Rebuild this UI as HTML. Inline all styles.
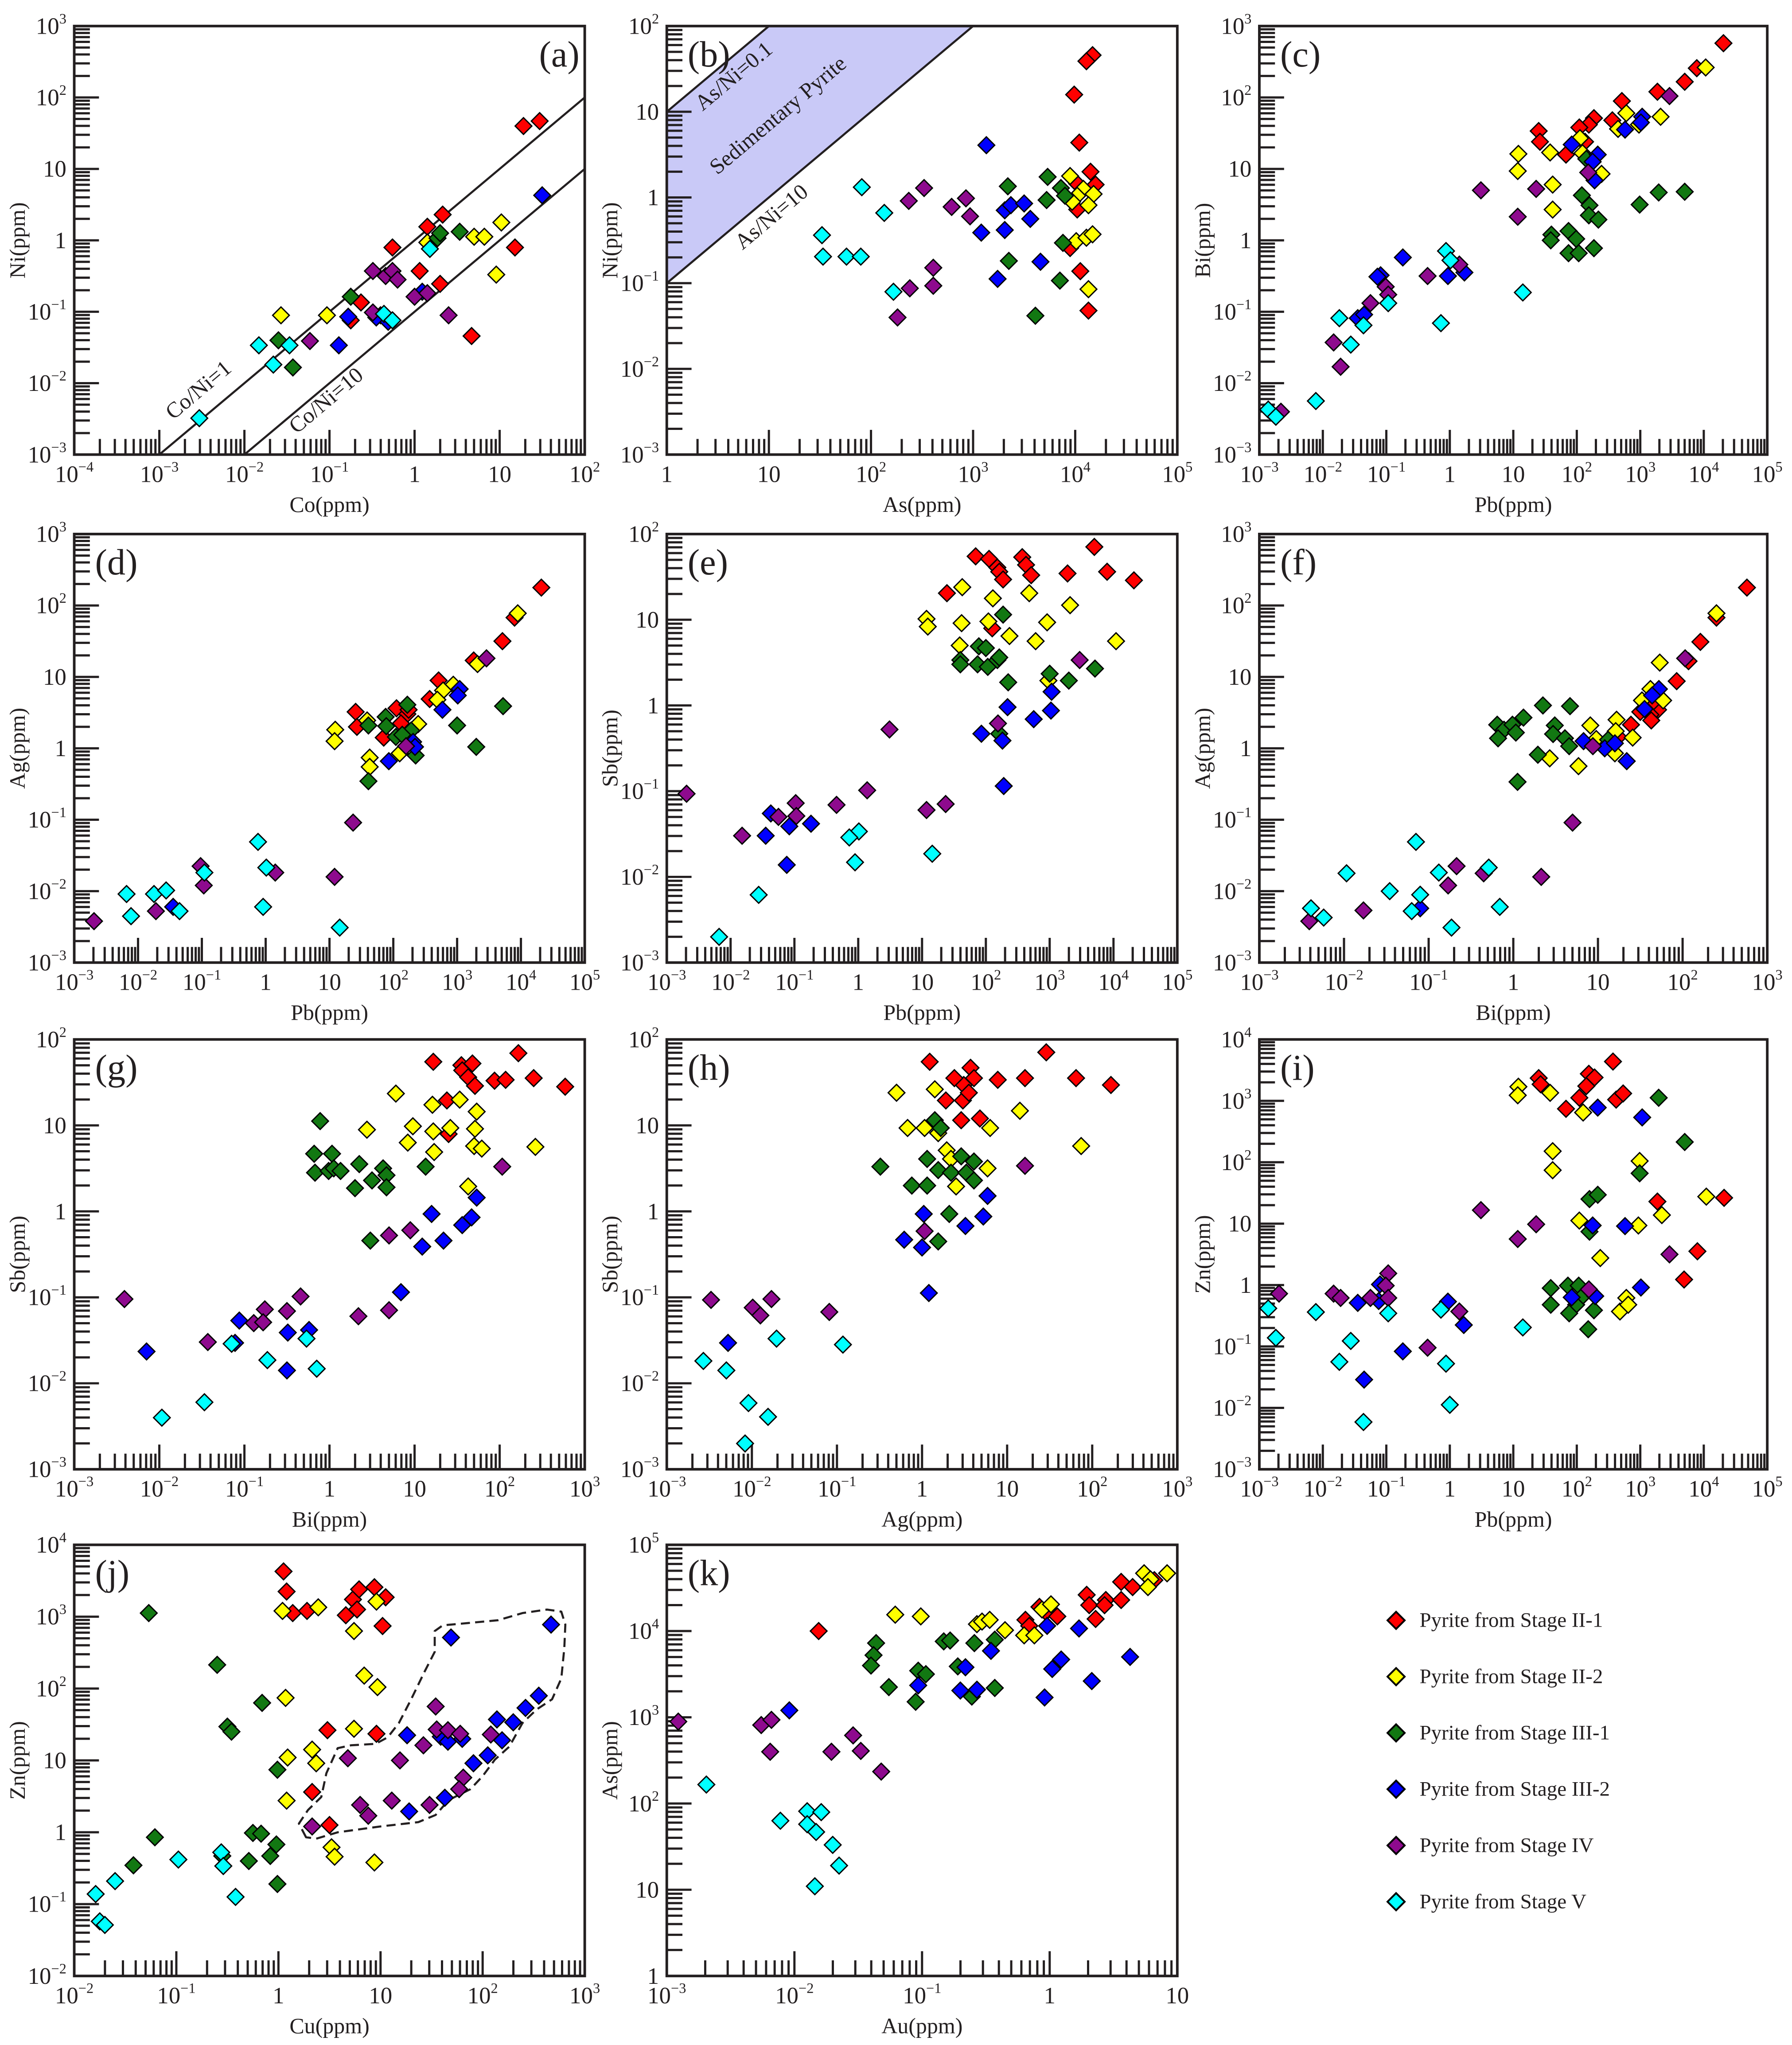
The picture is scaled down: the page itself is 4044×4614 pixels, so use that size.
<!DOCTYPE html>
<html>
<head>
<meta charset="utf-8">
<style>
html,body{margin:0;padding:0;background:#fff;}
svg{display:block;}
text{font-family:"Liberation Serif",serif;fill:#231f20;}
</style>
</head>
<body>
<svg id="fig" xmlns="http://www.w3.org/2000/svg" width="4044" height="4614" viewBox="0 0 1376 1570" preserveAspectRatio="none"></svg>
<script>
// ===== Data: each point is [log10(x ppm), log10(y ppm)] =====
// (a) Co vs Ni
const aRed=[[1.28,1.60],[1.47,1.67],[0.30,-0.61],[0.33,0.36],[0.15,0.19],[0.06,-0.43],[-0.26,-0.10],[-0.63,-0.87],[-0.75,-1.12],[0.67,-1.34],[1.18,-0.10]];
const aYellow=[[-1.57,-1.05],[-1.03,-1.05],[0.15,-0.03],[0.70,0.05],[0.82,0.05],[1.02,0.25],[0.96,-0.48]];
const aGreen=[[-1.60,-1.40],[-1.43,-1.78],[-0.75,-0.79],[0.27,0.03],[0.53,0.12],[-0.40,-1.05],[0.30,0.10]];
const aBlue=[[-0.78,-1.07],[-0.89,-1.47],[-0.31,-1.14],[0.09,-0.72],[1.50,0.63],[-0.45,-1.08]];
const aPurple=[[-1.23,-1.41],[-0.49,-0.43],[-0.34,-0.50],[-0.26,-0.43],[-0.49,-1.01],[0.00,-0.79],[0.15,-0.74],[0.40,-1.05],[-0.20,-0.55]];
const aCyan=[[-2.53,-2.49],[-1.83,-1.47],[-1.66,-1.74],[-1.47,-1.47],[-0.36,-1.03],[-0.26,-1.12],[0.18,-0.12]];
// (b) As vs Ni
const bRed=[[4.17,1.66],[4.11,1.59],[3.99,1.20],[4.04,0.64],[4.15,0.30],[4.20,0.15],[4.02,0.16],[4.02,-0.14],[3.95,-0.59],[4.05,-0.86],[4.13,-1.32]];
const bYellow=[[3.95,0.25],[4.08,0.10],[4.02,0.02],[4.18,0.04],[3.97,-0.05],[4.13,-0.09],[4.01,-0.51],[4.11,-0.47],[4.17,-0.43],[4.13,-1.07]];
const bGreen=[[3.73,0.24],[3.34,0.13],[3.86,0.11],[3.90,0.02],[3.72,-0.03],[3.88,-0.53],[3.35,-0.74],[3.85,-0.97],[3.61,-1.38]];
const bBlue=[[3.13,0.61],[3.31,-0.15],[3.37,-0.09],[3.50,-0.07],[3.56,-0.25],[3.08,-0.41],[3.31,-0.38],[3.66,-0.75],[3.24,-0.95]];
const bPurple=[[2.37,-0.04],[2.52,0.11],[2.79,-0.11],[2.93,-0.01],[2.97,-0.22],[2.61,-0.82],[2.61,-1.03],[2.38,-1.06],[2.26,-1.40]];
const bCyan=[[1.52,-0.44],[1.53,-0.69],[1.76,-0.69],[1.90,-0.69],[1.91,0.12],[2.13,-0.18],[2.22,-1.10]];
// (c) Pb vs Bi
const cRed=[[4.31,2.76],[3.89,2.41],[3.70,2.22],[3.27,2.08],[2.71,1.95],[2.56,1.68],[2.27,1.71],[2.19,1.62],[2.04,1.58],[1.40,1.53],[1.42,1.38],[1.83,1.20],[2.13,1.38]];
const cYellow=[[4.03,2.42],[3.32,1.73],[2.78,1.78],[2.65,1.56],[2.98,1.62],[2.05,1.43],[2.09,1.22],[2.39,0.93],[1.58,1.23],[1.08,1.21],[1.07,0.97],[1.62,0.78],[1.62,0.43]];
const cGreen=[[3.70,0.68],[3.29,0.67],[2.99,0.50],[2.08,0.63],[2.20,0.49],[2.19,0.35],[2.34,0.29],[1.60,0.08],[1.59,0.0],[1.87,0.13],[1.99,0.02],[1.87,-0.18],[2.03,-0.18],[2.27,-0.11],[2.15,1.14]];
const cBlue=[[3.03,1.73],[3.01,1.65],[2.76,1.55],[1.92,1.34],[2.33,1.20],[2.25,1.10],[2.28,0.84],[-0.74,-0.24],[-1.09,-0.49],[-1.14,-0.51],[-0.03,-0.50],[0.23,-0.45],[-1.45,-1.09],[-1.35,-1.04]];
const cPurple=[[3.46,2.02],[2.18,0.95],[0.49,0.70],[1.36,0.72],[1.07,0.33],[-0.35,-0.50],[0.15,-0.34],[-1.01,-0.65],[-0.97,-0.76],[-1.25,-0.88],[-1.83,-1.43],[-1.72,-1.77],[-2.66,-2.40]];
const cCyan=[[-0.06,-0.15],[0.01,-0.28],[1.15,-0.73],[-0.97,-0.88],[-0.14,-1.16],[-1.74,-1.09],[-1.36,-1.19],[-1.56,-1.46],[-2.11,-2.25],[-2.86,-2.37],[-2.74,-2.47]];
// (d) Pb vs Ag
const dRed=[[4.32,2.25],[3.90,1.83],[3.71,1.50],[3.26,1.23],[2.71,0.95],[2.57,0.69],[2.05,0.56],[2.22,0.48],[2.12,0.35],[1.41,0.51],[1.43,0.30],[1.85,0.15],[2.24,0.54]];
const dYellow=[[3.95,1.89],[3.32,1.18],[2.94,0.89],[2.78,0.81],[2.69,0.68],[2.39,0.34],[1.59,0.39],[1.09,0.26],[1.08,0.10],[1.63,-0.13],[1.63,-0.26],[2.10,-0.07]];
const dGreen=[[3.72,0.59],[3.0,0.32],[3.30,0.02],[2.22,0.61],[1.88,0.44],[1.89,0.31],[1.61,0.32],[2.04,0.16],[2.28,0.25],[2.35,-0.10],[1.61,-0.46],[2.14,0.19]];
const dBlue=[[3.04,0.83],[3.01,0.74],[2.77,0.54],[2.31,0.09],[2.34,0.02],[1.93,-0.18],[-1.45,-2.22]];
const dPurple=[[3.46,1.26],[2.20,0.03],[1.37,-1.04],[1.08,-1.80],[0.15,-1.74],[-1.02,-1.65],[-0.97,-1.92],[-1.72,-2.28],[-2.69,-2.42]];
const dCyan=[[-0.12,-1.31],[0.01,-1.67],[-0.96,-1.74],[-0.04,-2.22],[1.16,-2.51],[-2.18,-2.04],[-2.11,-2.35],[-1.75,-2.04],[-1.56,-1.99],[-1.35,-2.28]];
// (e) Pb vs Sb
const eRed=[[3.70,1.85],[1.84,1.74],[2.05,1.71],[2.18,1.61],[2.21,1.56],[2.27,1.47],[2.57,1.73],[2.63,1.64],[2.71,1.52],[3.28,1.54],[3.90,1.56],[4.32,1.46],[1.39,1.31],[2.10,0.90]];
const eYellow=[[1.63,1.38],[2.11,1.25],[2.68,1.31],[3.32,1.17],[1.07,1.01],[1.09,0.92],[1.62,0.96],[2.04,0.98],[2.96,0.97],[2.37,0.81],[2.78,0.75],[4.04,0.75],[1.59,0.70],[2.98,0.29]];
const eGreen=[[2.27,1.06],[1.89,0.69],[2.0,0.67],[1.60,0.53],[1.60,0.48],[1.87,0.48],[2.03,0.45],[2.18,0.53],[2.21,0.56],[2.35,0.27],[3.0,0.37],[3.30,0.29],[3.71,0.43],[2.21,-0.33]];
const eBlue=[[3.03,0.16],[2.34,-0.02],[2.75,-0.16],[3.02,-0.06],[1.93,-0.33],[2.26,-0.41],[2.28,-0.94],[-1.37,-1.26],[-1.08,-1.41],[-0.74,-1.38],[-1.45,-1.52],[-1.12,-1.86]];
const ePurple=[[3.47,0.53],[2.19,-0.21],[0.49,-0.28],[0.14,-0.99],[-2.69,-1.03],[-0.98,-1.14],[-0.34,-1.16],[1.07,-1.22],[1.37,-1.15],[-1.25,-1.30],[-0.97,-1.29],[-1.82,-1.52]];
const eCyan=[[0.01,-1.47],[-0.14,-1.54],[-0.05,-1.83],[1.16,-1.73],[-1.56,-2.21],[-2.18,-2.70]];
// (f) Bi vs Ag
const fRed=[[2.76,2.25],[2.40,1.83],[2.21,1.49],[2.07,1.22],[1.93,0.94],[1.71,0.54],[1.62,0.47],[1.63,0.39],[1.50,0.51],[1.39,0.33],[1.24,0.16],[1.66,0.66]];
const fYellow=[[2.40,1.89],[1.73,1.20],[1.62,0.83],[1.77,0.67],[1.52,0.67],[1.22,0.40],[1.21,0.24],[1.41,0.15],[0.91,0.32],[0.98,0.13],[1.20,-0.07],[0.43,-0.14],[0.77,-0.25]];
const fGreen=[[0.35,0.60],[0.67,0.59],[0.12,0.43],[-0.19,0.33],[-0.11,0.26],[-0.01,0.33],[0.03,0.22],[-0.18,0.14],[0.49,0.32],[0.47,0.20],[0.61,0.14],[0.66,0.03],[0.29,-0.09],[0.05,-0.47],[1.12,0.12]];
const fBlue=[[1.72,0.83],[1.64,0.74],[1.55,0.55],[0.83,0.10],[1.08,0.0],[1.20,0.07],[1.34,-0.18],[-1.10,-2.24]];
const fPurple=[[2.03,1.26],[0.94,0.03],[0.70,-1.04],[0.33,-1.80],[-0.67,-1.65],[-0.77,-1.92],[-0.35,-1.75],[-1.77,-2.27],[-2.41,-2.42]];
const fCyan=[[-1.15,-1.31],[-0.88,-1.74],[-0.29,-1.67],[-1.97,-1.75],[-1.46,-2.0],[-1.10,-2.05],[-1.20,-2.28],[-0.16,-2.22],[-0.73,-2.51],[-2.39,-2.24],[-2.24,-2.37]];
// (g) Bi vs Sb
const gRed=[[2.22,1.84],[1.22,1.74],[1.55,1.70],[1.68,1.72],[1.56,1.64],[1.63,1.56],[1.71,1.46],[1.94,1.52],[2.07,1.53],[2.40,1.55],[2.77,1.45],[1.38,1.29],[1.40,0.90]];
const gYellow=[[0.78,1.37],[1.21,1.24],[1.53,1.30],[1.73,1.16],[0.44,0.95],[0.98,0.99],[1.22,0.93],[1.42,0.97],[1.71,0.96],[0.92,0.80],[1.23,0.69],[1.70,0.76],[1.79,0.73],[2.42,0.75],[1.63,0.29]];
const gGreen=[[-0.11,1.05],[-0.18,0.67],[0.03,0.67],[-0.17,0.45],[-0.01,0.47],[0.05,0.50],[0.13,0.47],[0.35,0.55],[0.50,0.36],[0.30,0.27],[0.63,0.50],[0.67,0.42],[0.67,0.28],[1.13,0.52],[0.48,-0.34]];
const gBlue=[[1.73,0.16],[1.20,-0.03],[1.67,-0.07],[1.56,-0.16],[1.34,-0.34],[1.09,-0.41],[0.84,-0.94],[-1.06,-1.27],[-0.49,-1.41],[-0.24,-1.38],[-1.11,-1.53],[-2.15,-1.63],[-0.50,-1.85]];
const gPurple=[[2.03,0.52],[0.95,-0.22],[0.70,-0.28],[0.34,-1.22],[0.70,-1.15],[-0.34,-0.99],[-0.50,-1.16],[-0.76,-1.14],[-0.89,-1.30],[-0.78,-1.29],[-1.43,-1.52],[-2.41,-1.02]];
const gCyan=[[-0.27,-1.48],[-1.15,-1.54],[-0.73,-1.73],[-0.15,-1.83],[-1.47,-2.22],[-1.97,-2.40]];
// (h) Ag vs Sb
const hRed=[[1.46,1.85],[0.09,1.74],[0.57,1.67],[0.61,1.55],[0.49,1.47],[0.38,1.55],[0.28,1.29],[0.48,1.29],[0.55,1.38],[0.46,1.06],[0.68,1.08],[0.89,1.53],[1.21,1.55],[1.81,1.55],[2.22,1.47]];
const hYellow=[[-0.30,1.38],[0.15,1.42],[-0.17,0.97],[0.03,0.97],[0.19,0.91],[0.29,0.71],[0.34,0.61],[0.80,0.97],[1.15,1.17],[0.40,0.29],[0.77,0.50],[1.87,0.76]];
const hGreen=[[-0.49,0.52],[-0.12,0.30],[0.06,0.61],[0.15,1.06],[0.22,0.97],[0.06,0.30],[0.19,0.48],[0.34,0.45],[0.52,0.45],[0.61,0.58],[0.46,0.64],[0.61,0.36],[0.32,-0.03],[0.19,-0.35]];
const hBlue=[[0.02,-0.03],[-0.21,-0.33],[0.00,-0.42],[0.51,-0.17],[0.72,-0.06],[0.77,0.18],[0.08,-0.95],[-2.28,-1.53]];
const hPurple=[[1.21,0.53],[-2.48,-1.03],[-1.99,-1.12],[-1.90,-1.21],[-1.77,-1.02],[-1.09,-1.17],[0.03,-0.23]];
const hCyan=[[-2.57,-1.74],[-2.30,-1.85],[-2.04,-2.23],[-1.81,-2.39],[-2.08,-2.70],[-1.71,-1.48],[-0.93,-1.55]];
// (i) Pb vs Zn
const iRed=[[2.57,3.64],[1.40,3.37],[1.43,3.27],[2.19,3.44],[2.28,3.38],[2.15,3.24],[2.04,3.05],[2.62,3.02],[2.73,3.12],[1.83,2.87],[3.27,1.36],[4.32,1.42],[3.90,0.55],[3.69,0.09]];
const iYellow=[[1.08,3.23],[1.07,3.09],[1.58,3.13],[2.10,2.81],[1.62,2.18],[1.62,1.87],[2.99,2.02],[4.04,1.44],[3.34,1.14],[2.04,1.05],[2.97,0.97],[2.37,0.44],[2.78,-0.21],[2.68,-0.43],[2.81,-0.32]];
const iGreen=[[3.29,3.05],[3.70,2.33],[2.99,1.82],[2.20,1.40],[2.33,1.47],[2.20,0.87],[1.59,-0.05],[1.59,-0.32],[1.86,-0.01],[2.03,-0.01],[1.99,-0.32],[1.88,-0.46],[2.27,-0.41],[2.18,-0.72],[2.10,-0.17]];
const iBlue=[[2.33,2.89],[3.03,2.73],[2.25,0.97],[2.76,0.96],[3.01,-0.04],[1.92,-0.20],[2.29,-0.18],[-0.03,-0.27],[0.22,-0.65],[-0.74,-1.08],[-1.35,-1.54],[-1.45,-0.29],[-1.10,0.01],[-1.12,-0.26]];
const iPurple=[[0.49,1.22],[1.36,0.99],[1.07,0.75],[3.46,0.50],[2.19,-0.07],[-0.97,0.19],[-1.01,-0.01],[-0.97,-0.21],[-1.25,-0.21],[-1.83,-0.14],[-1.72,-0.21],[-2.69,-0.14],[0.15,-0.43],[-0.35,-1.02]];
const iCyan=[[-2.86,-0.38],[-2.74,-0.86],[-2.11,-0.44],[-0.97,-0.46],[-0.14,-0.40],[1.15,-0.69],[-1.56,-0.91],[-1.74,-1.25],[-0.06,-1.28],[0.0,-1.95],[-1.36,-2.23]];
// (j) Cu vs Zn
const jRed=[[0.05,3.63],[0.08,3.35],[0.14,3.05],[0.28,3.08],[0.66,3.02],[0.73,3.24],[0.77,3.10],[0.79,3.38],[0.94,3.41],[1.05,3.27],[1.02,2.87],[0.48,1.42],[0.96,1.37],[0.33,0.56],[0.50,0.10]];
const jYellow=[[0.04,3.08],[0.39,3.13],[0.96,3.21],[0.74,2.80],[0.84,2.18],[0.97,2.02],[0.07,1.87],[0.74,1.44],[0.09,1.04],[0.33,1.15],[0.37,0.96],[0.08,0.44],[0.52,-0.21],[0.55,-0.34],[0.94,-0.42]];
const jGreen=[[-1.27,3.05],[-0.60,2.33],[-0.16,1.80],[-0.50,1.47],[-0.46,1.40],[-0.01,0.87],[-0.25,-0.01],[-0.17,-0.02],[-0.02,-0.17],[-0.08,-0.33],[-0.29,-0.40],[-0.01,-0.72],[-1.21,-0.07],[-1.42,-0.46],[-0.55,-0.33]];
const jBlue=[[2.67,2.89],[1.69,2.71],[1.26,1.35],[1.59,1.33],[1.66,1.26],[1.80,1.30],[2.14,1.57],[2.19,1.28],[2.30,1.53],[2.42,1.73],[2.55,1.90],[2.05,1.07],[1.91,0.96],[1.63,0.48],[1.28,0.29]];
const jPurple=[[1.54,1.75],[1.55,1.43],[1.66,1.42],[1.78,1.37],[2.08,1.36],[1.42,1.21],[0.68,1.03],[1.19,1.00],[1.81,0.76],[1.77,0.60],[1.11,0.44],[0.80,0.38],[0.88,0.23],[1.48,0.38],[0.33,0.08]];
const jCyan=[[-1.79,-0.86],[-1.60,-0.68],[-1.75,-1.24],[-1.70,-1.29],[-0.98,-0.38],[-0.56,-0.28],[-0.54,-0.47],[-0.42,-0.90]];
// (j) dashed field outline (log10 Cu, log10 Zn)
const jField=[[0.27,-0.07],[0.20,0.12],[0.29,0.31],[0.42,0.49],[0.47,0.82],[0.58,1.17],[0.71,1.21],[0.95,1.23],[1.07,1.32],[1.18,1.52],[1.30,1.85],[1.43,2.23],[1.53,2.51],[1.53,2.80],[1.61,2.88],[1.85,2.91],[2.15,2.95],[2.39,3.05],[2.63,3.10],[2.77,3.07],[2.81,2.89],[2.80,2.56],[2.77,2.14],[2.68,1.85],[2.53,1.71],[2.39,1.52],[2.26,1.19],[2.12,1.01],[2.00,0.78],[1.88,0.60],[1.67,0.45],[1.54,0.24],[1.37,0.14],[0.99,0.08],[0.58,0.0],[0.37,-0.09]];
// (k) Au vs As
const kRed=[[-1.81,4.0],[-0.19,4.13],[-0.16,4.06],[-0.08,4.28],[-0.03,4.22],[0.06,4.17],[0.29,4.42],[0.31,4.30],[0.36,4.14],[0.44,4.36],[0.43,4.30],[0.56,4.36],[0.56,4.57],[0.65,4.51],[0.82,4.59]];
const kYellow=[[-1.21,4.19],[-1.01,4.17],[-0.57,4.08],[-0.53,4.11],[-0.47,4.13],[-0.35,4.01],[-0.20,3.95],[-0.12,3.95],[-0.06,4.25],[0.01,4.31],[0.74,4.67],[0.79,4.60],[0.77,4.51],[0.92,4.67]];
const kGreen=[[-1.36,3.86],[-1.38,3.72],[-1.40,3.60],[-1.26,3.35],[-0.83,3.88],[-0.78,3.89],[-0.59,3.86],[-0.43,3.90],[-1.03,3.54],[-0.97,3.50],[-0.72,3.59],[-0.61,3.24],[-0.43,3.34],[-1.05,3.18]];
const kBlue=[[-2.04,3.08],[-1.03,3.37],[-0.70,3.31],[-0.57,3.32],[-0.66,3.58],[-0.46,3.77],[-0.02,4.06],[0.23,4.03],[0.09,3.67],[0.02,3.56],[-0.04,3.23],[0.33,3.42],[0.63,3.70]];
const kPurple=[[-2.91,2.95],[-2.26,2.91],[-2.18,2.97],[-2.19,2.60],[-1.54,2.79],[-1.71,2.60],[-1.48,2.61],[-1.32,2.37]];
const kCyan=[[-2.69,2.22],[-2.11,1.80],[-1.90,1.91],[-1.79,1.90],[-1.90,1.76],[-1.83,1.67],[-1.70,1.52],[-1.65,1.28],[-1.84,1.04]];

const stageNames=["Pyrite from Stage II-1","Pyrite from Stage II-2","Pyrite from Stage III-1","Pyrite from Stage III-2","Pyrite from Stage IV","Pyrite from Stage V"];
const stageKeys=["stage-ii-1","stage-ii-2","stage-iii-1","stage-iii-2","stage-iv","stage-v"];
const stageColors=["#ff0000","#ffff00","#127812","#0000ff","#8e0a8e","#00ffff"];

const NS="http://www.w3.org/2000/svg";
const svg=document.getElementById("fig");
function mk(tag,attrs,parent){const e=document.createElementNS(NS,tag);for(const k in attrs)e.setAttribute(k,attrs[k]);(parent||svg).appendChild(e);return e;}

const panels=[
 {id:"a",x0:57,y0:20,w:392,h:329,xr:[-4,2],yr:[-3,3],xl:"Co(ppm)",yl:"Ni(ppm)",lr:true,series:[aRed,aYellow,aGreen,aBlue,aPurple,aCyan]},
 {id:"b",x0:512,y0:20,w:392,h:329,xr:[0,5],yr:[-3,2],xl:"As(ppm)",yl:"Ni(ppm)",series:[bRed,bYellow,bGreen,bBlue,bPurple,bCyan]},
 {id:"c",x0:967,y0:20,w:390,h:329,xr:[-3,5],yr:[-3,3],xl:"Pb(ppm)",yl:"Bi(ppm)",series:[cRed,cYellow,cGreen,cBlue,cPurple,cCyan]},
 {id:"d",x0:57,y0:410,w:392,h:329,xr:[-3,5],yr:[-3,3],xl:"Pb(ppm)",yl:"Ag(ppm)",series:[dRed,dYellow,dGreen,dBlue,dPurple,dCyan]},
 {id:"e",x0:512,y0:410,w:392,h:329,xr:[-3,5],yr:[-3,2],xl:"Pb(ppm)",yl:"Sb(ppm)",series:[eRed,eYellow,eGreen,eBlue,ePurple,eCyan]},
 {id:"f",x0:967,y0:410,w:390,h:329,xr:[-3,3],yr:[-3,3],xl:"Bi(ppm)",yl:"Ag(ppm)",series:[fRed,fYellow,fGreen,fBlue,fPurple,fCyan]},
 {id:"g",x0:57,y0:798,w:392,h:330,xr:[-3,3],yr:[-3,2],xl:"Bi(ppm)",yl:"Sb(ppm)",series:[gRed,gYellow,gGreen,gBlue,gPurple,gCyan]},
 {id:"h",x0:512,y0:798,w:392,h:330,xr:[-3,3],yr:[-3,2],xl:"Ag(ppm)",yl:"Sb(ppm)",series:[hRed,hYellow,hGreen,hBlue,hPurple,hCyan]},
 {id:"i",x0:967,y0:798,w:390,h:330,xr:[-3,5],yr:[-3,4],xl:"Pb(ppm)",yl:"Zn(ppm)",series:[iRed,iYellow,iGreen,iBlue,iPurple,iCyan]},
 {id:"j",x0:57,y0:1186,w:392,h:331,xr:[-2,3],yr:[-2,4],xl:"Cu(ppm)",yl:"Zn(ppm)",series:[jRed,jYellow,jGreen,jBlue,jPurple,jCyan]},
 {id:"k",x0:512,y0:1186,w:392,h:331,xr:[-3,1],yr:[0,5],xl:"Au(ppm)",yl:"As(ppm)",series:[kRed,kYellow,kGreen,kBlue,kPurple,kCyan]}
];

function addPow(t,e){
  if(e===0){t.textContent="1";return;}
  if(e===1){t.textContent="10";return;}
  t.appendChild(document.createTextNode("10"));
  const s=document.createElementNS(NS,"tspan");
  s.setAttribute("dy","-8");s.setAttribute("font-size","11");
  s.textContent=(e<0?"\u2212":"")+Math.abs(e);
  t.appendChild(s);
}
function diamond(g,x,y,r,color){
  return mk("polygon",{points:`${x},${y-r} ${x+r},${y} ${x},${y+r} ${x-r},${y}`,fill:color,stroke:"#000","stroke-width":"1"},g);
}

panels.forEach(p=>{
  const g=mk("g",{});
  
  
  const sx=v=>p.x0+(v-p.xr[0])/(p.xr[1]-p.xr[0])*p.w;
  const sy=v=>p.y0+p.h-(v-p.yr[0])/(p.yr[1]-p.yr[0])*p.h;
  const clipId="clip-"+p.id;
  const cp=mk("clipPath",{id:clipId},g);
  mk("rect",{x:p.x0,y:p.y0,width:p.w,height:p.h},cp);

  if(p.id==="b"){
    const poly=[[0,1],[1,2],[3,2],[0,-1]].map(q=>sx(q[0])+","+sy(q[1])).join(" ");
    const f=mk("polygon",{points:poly,fill:"#c9c9f7",stroke:"none","clip-path":`url(#${clipId})`},g);
    
    
    const l1=mk("line",{x1:sx(0),y1:sy(1),x2:sx(1),y2:sy(2),stroke:"#231f20","stroke-width":"1.6"},g);
    
    
    const l2=mk("line",{x1:sx(0),y1:sy(-1),x2:sx(3),y2:sy(2),stroke:"#231f20","stroke-width":"1.6"},g);
    
    
    const t1=mk("text",{x:563,y:64,"font-size":"17","text-anchor":"middle",transform:"rotate(-40 563 58)"},g);
    t1.textContent="As/Ni=0.1";
    
    
    const t2=mk("text",{x:597,y:94,"font-size":"17","text-anchor":"middle",transform:"rotate(-40 597 88)"},g);
    t2.textContent="Sedimentary Pyrite";
    
    
    const t3=mk("text",{x:592,y:172,"font-size":"17","text-anchor":"middle",transform:"rotate(-40 592 166)"},g);
    t3.textContent="As/Ni=10";
    
    
  }
  if(p.id==="a"){
    const l1=mk("line",{x1:sx(-3),y1:sy(-3),x2:sx(2),y2:sy(2),stroke:"#231f20","stroke-width":"1.6"},g);
    
    
    const l2=mk("line",{x1:sx(-2),y1:sy(-3),x2:sx(2),y2:sy(1),stroke:"#231f20","stroke-width":"1.6"},g);
    
    
    const t1=mk("text",{x:152,y:305,"font-size":"17","text-anchor":"middle",transform:"rotate(-40 152 299)"},g);
    t1.textContent="Co/Ni=1";
    
    
    const t2=mk("text",{x:250,y:313,"font-size":"17","text-anchor":"middle",transform:"rotate(-40 250 307)"},g);
    t2.textContent="Co/Ni=10";
    
    
  }

  const fr=mk("rect",{x:p.x0,y:p.y0,width:p.w,height:p.h,fill:"none",stroke:"#231f20","stroke-width":"2"},g);
  
  

  const xt=mk("g",{stroke:"#231f20","stroke-width":"1.7"},g);
  
  
  for(let d=p.xr[0];d<=p.xr[1];d++){
    const X=sx(d);
    mk("line",{x1:X,y1:p.y0+p.h,x2:X,y2:p.y0+p.h-19},xt);
    if(d<p.xr[1]) for(let k=2;k<=9;k++){const Xm=sx(d+Math.log10(k));mk("line",{x1:Xm,y1:p.y0+p.h,x2:Xm,y2:p.y0+p.h-12},xt);}
    const t=mk("text",{x:X,y:p.y0+p.h+21,"font-size":"18","text-anchor":"middle"},g);
    addPow(t,d);
    
    
  }
  const yt=mk("g",{stroke:"#231f20","stroke-width":"1.7"},g);
  
  
  for(let d=p.yr[0];d<=p.yr[1];d++){
    const Y=sy(d);
    mk("line",{x1:p.x0,y1:Y,x2:p.x0+19,y2:Y},yt);
    if(d<p.yr[1]) for(let k=2;k<=9;k++){const Ym=sy(d+Math.log10(k));mk("line",{x1:p.x0,y1:Ym,x2:p.x0+12,y2:Ym},yt);}
    const t=mk("text",{x:p.x0-6,y:Y+6,"font-size":"18","text-anchor":"end"},g);
    addPow(t,d);
    
    
  }
  const xt2=mk("text",{x:p.x0+p.w/2,y:p.y0+p.h+44,"font-size":"17","text-anchor":"middle"},g);
  xt2.textContent=p.xl;
  
  
  const yx=p.x0-38, yy=p.y0+p.h/2;
  const yt2=mk("text",{x:yx,y:yy,"font-size":"17","text-anchor":"middle",transform:`rotate(-90 ${yx} ${yy})`},g);
  yt2.textContent=p.yl;
  
  
  const lt=mk("text",{x:p.lr?p.x0+p.w-4:p.x0+16,y:p.y0+31,"font-size":"28","text-anchor":p.lr?"end":"start"},g);
  lt.textContent="("+p.id+")";
  
  

  if(p.id==="j"){
    const d="M"+jField.map(q=>sx(q[0]).toFixed(1)+","+sy(q[1]).toFixed(1)).join(" L")+" Z";
    const f=mk("path",{d:d,fill:"none",stroke:"#231f20","stroke-width":"1.6","stroke-dasharray":"7,4","stroke-linejoin":"round"},g);
    
    
  }

  p.series.forEach((arr,si)=>{
    const sg=mk("g",{"clip-path":`url(#${clipId})`},g);
    
    
    arr.forEach(pt=>{
      const m=diamond(sg,sx(pt[0]),sy(pt[1]),6.4,stageColors[si]);
      
      
    });
  });
});

const lg=mk("g",{});


stageNames.forEach((n,i)=>{
  const y=1244+i*43.2;
  const e=mk("g",{},lg);
  
  
  const m=diamond(e,1072,y,6.6,stageColors[i]);
  m.setAttribute('stroke-width','1.4');
  
  
  const t=mk("text",{x:1090,y:y+5,"font-size":"16"},e);
  t.textContent=n;
  
  
});
</script>
</body>
</html>
